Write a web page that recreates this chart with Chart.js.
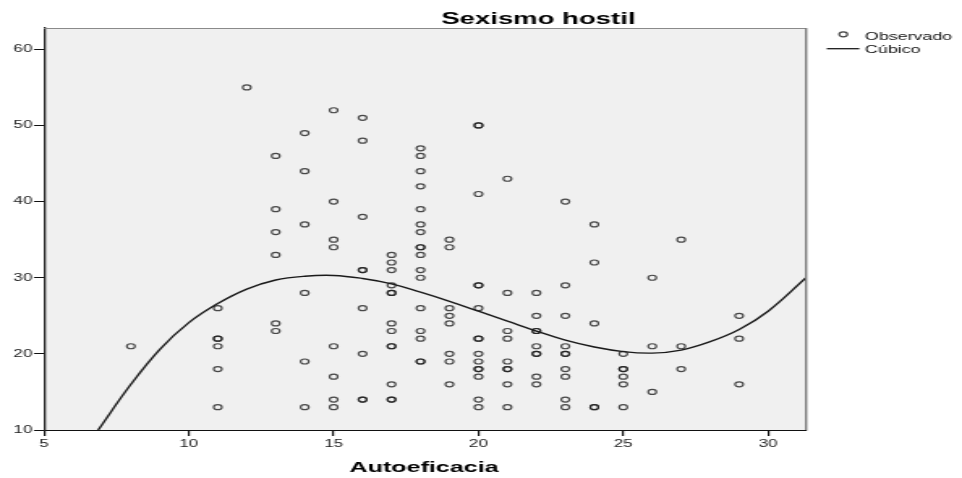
<!DOCTYPE html>
<html>
<head>
<meta charset="utf-8">
<script src="https://cdn.jsdelivr.net/npm/chart.js@4.4.0/dist/chart.umd.min.js"></script>
<style>
  html, body { margin: 0; padding: 0; background: #fff; overflow: hidden; }
  /* the reference is stretched sideways, so the canvas is too */
  #wrap { width: 594px; height: 478px; transform: scaleX(1.61953); transform-origin: 0 0; }
</style>
</head>
<body>
<div id="wrap"><canvas id="grafico" width="594" height="478"></canvas></div>
<script>
// ============= Dados =============
const titulo = "Sexismo hostil";
const tituloX = "Autoeficacia";
const legendaObs = "Observado";
const legendaCub = "Cúbico";

// Autoeficacia (x) and the Sexismo hostil values seen in each column
const autoeficacia = [8, 11, 12, 13, 14, 15, 16, 17, 18, 19, 20, 21, 22, 23, 24, 25, 26, 27, 29];
const sexismo = [
  [21],
  [26, 22, 22, 21, 18, 13],
  [55],
  [46, 39, 36, 33, 24, 23],
  [49, 44, 37, 28, 19, 13],
  [52, 40, 35, 34, 21, 17, 14, 13],
  [51, 48, 38, 31, 31, 26, 20, 14, 14],
  [33, 32, 31, 29, 28, 28, 24, 23, 21, 21, 16, 14, 14],
  [47, 46, 44, 42, 39, 37, 36, 34, 34, 33, 31, 30, 26, 23, 22, 19, 19],
  [35, 34, 26, 25, 24, 20, 19, 16],
  [50, 50, 41, 29, 29, 26, 22, 22, 20, 19, 18, 18, 17, 14, 13],
  [43, 28, 23, 22, 19, 18, 18, 16, 13],
  [28, 25, 23, 23, 21, 20, 20, 17, 16],
  [40, 29, 25, 21, 20, 20, 18, 17, 14, 13],
  [37, 32, 24, 13, 13],
  [20, 18, 18, 17, 16, 13],
  [30, 21, 15],
  [35, 21, 18],
  [25, 22, 16],
];

// cubic fit line
const cubicoX = [6.87, 8, 9, 10, 11, 12, 13, 14, 15, 16, 17, 18, 19, 20, 21, 22, 23, 24, 25, 26, 27, 28, 29, 30, 31.31];
const cubicoY = [10, 16, 20.6, 24.1, 26.6, 28.5, 29.7, 30.2, 30.3, 29.9, 29.2, 28.1, 26.9, 25.6, 24.3, 23.0, 21.8, 20.9, 20.3, 20.1, 20.5, 21.6, 23.2, 25.6, 30.0];

const xTicks = [5, 10, 15, 20, 25, 30];
const yTicks = [10, 20, 30, 40, 50, 60];
const xMin = 5, xMax = 31.31;
const yMin = 10, yMax = 62.8;

// ============= Montagem =============
const pontos = [];
autoeficacia.forEach((x, i) => {
  sexismo[i].forEach((y) => pontos.push({ x, y }));
});
const curva = cubicoX.map((x, i) => ({ x, y: cubicoY[i] }));

const FONTE = '"Liberation Sans", Arial, sans-serif';
Chart.defaults.font.family = FONTE;

// background, frame, title, axis title and legend
const moldura = {
  id: "moldura",
  beforeDraw(chart) {
    const { ctx, chartArea: a } = chart;
    ctx.save();
    ctx.fillStyle = "#f0f0f0";
    ctx.fillRect(a.left, a.top, a.right - a.left, a.bottom - a.top);
    ctx.restore();
  },
  afterDraw(chart) {
    const { ctx, chartArea: a } = chart;
    ctx.save();
    // top and right edges of the frame
    ctx.strokeStyle = "#8a8a8a";
    ctx.lineWidth = 1;
    ctx.beginPath();
    ctx.moveTo(a.left, a.top + 0.5);
    ctx.lineTo(a.right, a.top + 0.5);
    ctx.stroke();
    ctx.strokeStyle = "#7a7a7a";
    ctx.lineWidth = 1.4;
    ctx.beginPath();
    ctx.moveTo(a.right, a.top);
    ctx.lineTo(a.right, a.bottom);
    ctx.stroke();

    ctx.fillStyle = "#000";
    ctx.textAlign = "center";
    ctx.textBaseline = "alphabetic";
    ctx.font = `bold 17px ${FONTE}`;
    ctx.fillText(titulo, 332.4, 24);
    ctx.font = `bold 15.5px ${FONTE}`;
    ctx.fillText(tituloX, 261.8, 472);

    // legend
    ctx.strokeStyle = "rgba(30,30,30,0.85)";
    ctx.lineWidth = 1.2;
    ctx.beginPath();
    ctx.arc(520.7, 34.3, 2.5, 0, Math.PI * 2);
    ctx.stroke();
    ctx.strokeStyle = "#1a1a1a";
    ctx.lineWidth = 1.3;
    ctx.beginPath();
    ctx.moveTo(510.5, 48.7);
    ctx.lineTo(530.6, 48.7);
    ctx.stroke();
    ctx.fillStyle = "#111";
    ctx.textAlign = "left";
    ctx.font = `11px ${FONTE}`;
    ctx.fillText(legendaObs, 534.1, 39.5);
    ctx.fillText(legendaCub, 534.1, 53.3);
    ctx.restore();
  },
};

new Chart(document.getElementById("grafico"), {
  type: "scatter",
  data: {
    datasets: [
      {
        label: legendaObs,
        data: pontos,
        pointRadius: 2.5,
        pointBorderWidth: 1.2,
        pointBackgroundColor: "rgba(0,0,0,0)",
        pointBorderColor: "rgba(30,30,30,0.8)",
        showLine: false,
      },
      {
        label: legendaCub,
        data: curva,
        showLine: true,
        pointRadius: 0,
        borderColor: "#1a1a1a",
        borderWidth: 1.4,
        tension: 0.4,
        fill: false,
      },
    ],
  },
  options: {
    responsive: false,
    animation: false,
    devicePixelRatio: 1,
    events: [],
    layout: { padding: { left: 0, top: 28, right: 96.3, bottom: 0 } },
    plugins: { legend: { display: false }, title: { display: false }, tooltip: { enabled: false } },
    scales: {
      x: {
        type: "linear",
        min: xMin,
        max: xMax,
        afterBuildTicks: (s) => { s.ticks = xTicks.map((v) => ({ value: v })); },
        afterFit: (s) => { s.height = 48; },
        grid: { drawOnChartArea: false, drawTicks: true, tickLength: 6, color: "#111", lineWidth: 1.2 },
        border: { display: true, color: "#111", width: 1 },
        ticks: { color: "#222", font: { size: 10.5 }, padding: 2, maxRotation: 0 },
      },
      y: {
        type: "linear",
        min: yMin,
        max: yMax,
        afterBuildTicks: (s) => { s.ticks = yTicks.map((v) => ({ value: v })); },
        afterFit: (s) => { s.width = 27.17; },
        grid: { drawOnChartArea: false, drawTicks: true, tickLength: 6.2, color: "#111", lineWidth: 1 },
        border: { display: true, color: "#222", width: 1.3 },
        ticks: { color: "#222", font: { size: 10.5 }, padding: 1 },
      },
    },
  },
  plugins: [moldura],
});
</script>
</body>
</html>
